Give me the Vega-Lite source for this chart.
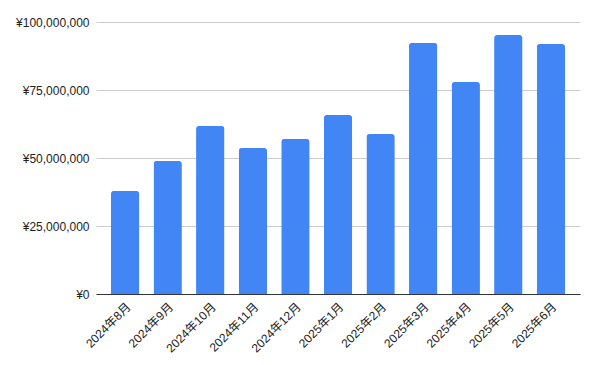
{
  "$schema": "https://vega.github.io/schema/vega-lite/v6.json",
  "width": 484,
  "height": 272,
  "autosize": {"type": "none"},
  "padding": {"left": 96, "top": 22, "right": 13, "bottom": 71},
  "background": "white",
  "config": {
    "view": {"stroke": null},
    "font": "Liberation Sans, Noto Sans CJK JP"
  },
  "data": {
    "values": [
      {"month": "2024年8月", "sales": 37900000},
      {"month": "2024年9月", "sales": 48900000},
      {"month": "2024年10月", "sales": 61800000},
      {"month": "2024年11月", "sales": 53700000},
      {"month": "2024年12月", "sales": 57000000},
      {"month": "2025年1月", "sales": 65800000},
      {"month": "2025年2月", "sales": 58800000},
      {"month": "2025年3月", "sales": 92300000},
      {"month": "2025年4月", "sales": 77900000},
      {"month": "2025年5月", "sales": 95200000},
      {"month": "2025年6月", "sales": 91900000}
    ]
  },
  "mark": {"type": "bar", "color": "#4285F4", "cornerRadiusTopLeft": 3, "cornerRadiusTopRight": 3},
  "encoding": {
    "x": {
      "field": "month",
      "type": "ordinal",
      "sort": null,
      "title": null,
      "scale": {"paddingInner": 0.333, "paddingOuter": 0.35},
      "axis": {
        "labelAngle": -45,
        "labelFontSize": 12,
        "labelColor": "#222222",
        "domainColor": "#333333",
        "ticks": false,
        "labelPadding": 7,
        "grid": false
      }
    },
    "y": {
      "field": "sales",
      "type": "quantitative",
      "title": null,
      "scale": {"domain": [0, 100000000], "nice": false},
      "axis": {
        "values": [0, 25000000, 50000000, 75000000, 100000000],
        "labelExpr": "'¥' + format(datum.value, ',')",
        "labelFontSize": 12,
        "labelColor": "#222222",
        "domain": false,
        "ticks": false,
        "labelPadding": 7,
        "gridColor": "#cccccc"
      }
    }
  }
}
